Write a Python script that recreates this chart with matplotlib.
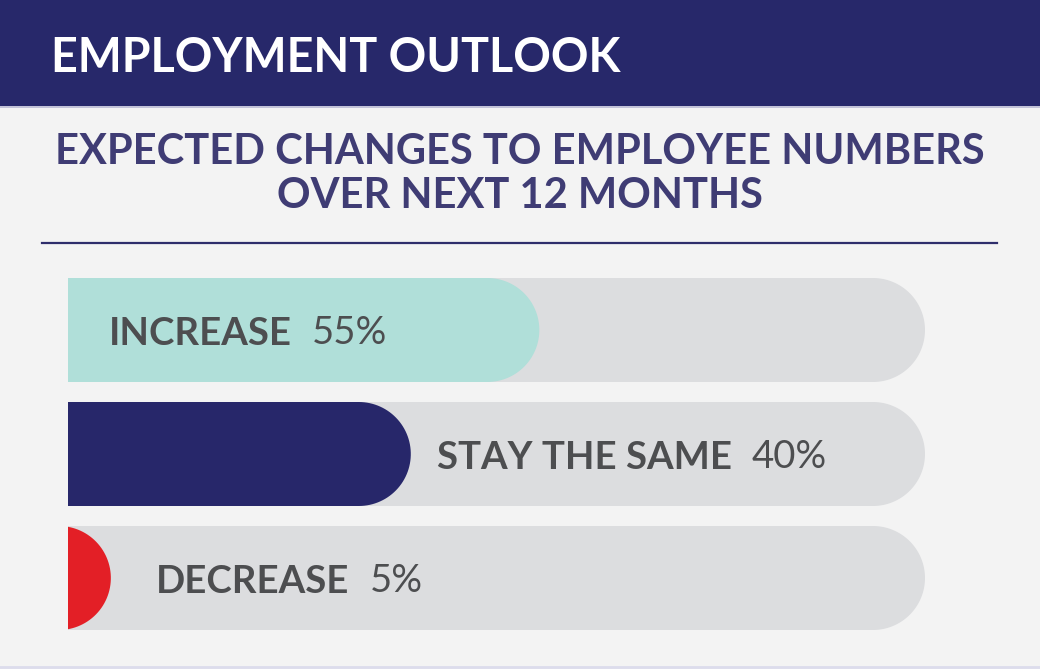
import numpy as np
import matplotlib.pyplot as plt
from matplotlib.patches import Polygon, Rectangle

# chart values
categories = ['INCREASE', 'STAY THE SAME', 'DECREASE']
values = [55, 40, 5]
bar_colors = ['#b0dfd9', '#27276a', '#e31f26']
title = 'EMPLOYMENT OUTLOOK'
subtitle = 'EXPECTED CHANGES TO EMPLOYEE NUMBERS\nOVER NEXT 12 MONTHS'

# where each label starts, in % units of the bar
label_x = [4.8, 43.0, 10.3]

BG = '#f3f3f3'
NAVY = '#27286a'
TRACK = '#dcdddf'
TEXT = '#4d4e50'

plt.rcParams['font.family'] = ['Lato', 'DejaVu Sans']

W, H = 1040, 669
fig = plt.figure(figsize=(W / 100, H / 100), dpi=100, facecolor=BG)

# header band and rules (figure pixel coords via a full-size axes)
bg = fig.add_axes([0, 0, 1, 1])
bg.set_xlim(0, W)
bg.set_ylim(H, 0)
bg.axis('off')
bg.add_patch(Rectangle((0, 0), W, 106, color=NAVY, lw=0))
bg.plot([0, W], [107, 107], color='#b9b9d3', lw=1.2)
bg.plot([0, W], [667, 667], color='#dcdcec', lw=2)
bg.plot([42, 997], [243, 243], color='#2e2d6b', lw=1.6)
bg.text(51, 58, title, color='white', fontsize=33.6, fontweight='bold',
        va='center', ha='left')
bg.text(520, 174, subtitle, color='#3f3c74', fontsize=30, fontweight='bold',
        va='center', ha='center', linespacing=1.18)

# bars region
left_px, right_px = 68, 925
top_px, bot_px = 268, 640
ax = fig.add_axes([left_px / W, (H - bot_px) / H,
                   (right_px - left_px) / W, (bot_px - top_px) / H])
ax.set_xlim(0, 100)
ax.set_ylim(2.5, -0.5)
ax.axis('off')

px_per_x = (right_px - left_px) / 100
px_per_y = (bot_px - top_px) / 3
bar_h = 104 / px_per_y
rx = (104 / 2) / px_per_x


def rounded_bar(y, end, color):
    cx = end - rx
    t = np.linspace(-np.pi / 2, np.pi / 2, 60)
    arc = np.column_stack([cx + rx * np.cos(t), y + bar_h / 2 * np.sin(t)])
    x0 = min(0, cx)
    pts = np.vstack([[x0, y - bar_h / 2], arc, [x0, y + bar_h / 2]])
    ax.add_patch(Polygon(pts, closed=True, color=color, lw=0))


for i, (cat, val, col) in enumerate(zip(categories, values, bar_colors)):
    rounded_bar(i, 100, TRACK)
    rounded_bar(i, val, col)
    lab = ax.text(label_x[i], i + 0.03, cat, color=TEXT, fontsize=27.6,
                  fontweight='bold', va='center', ha='left')
    ax.annotate(f'{val}%', xy=(1, 0), xycoords=lab, xytext=(20, 0),
                textcoords='offset pixels', va='bottom', ha='left',
                color=TEXT, fontsize=27.6, fontweight='normal')

fig.savefig('out.png', dpi=100, facecolor=BG)
